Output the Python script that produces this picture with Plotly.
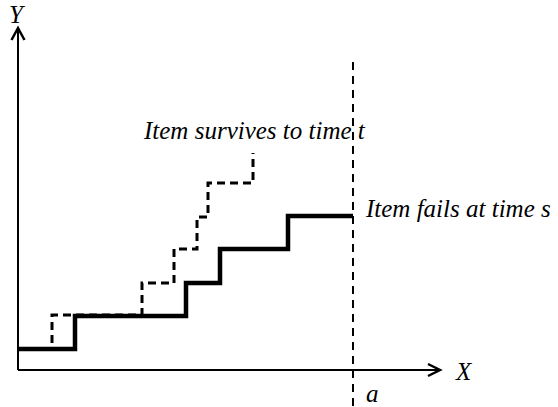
import plotly.graph_objects as go

# Step paths (x = time, y = level), drawn with 'hv' step shape
fail_x = [0, 5.6, 16.7, 20.1, 26.9, 33.4]
fail_y = [2.1, 5.4, 8.7, 12.1, 15.4, 15.4]

surv_x = [0, 3.3, 12.3, 15.5, 17.8, 18.9, 23.4]
surv_y = [2.1, 5.5, 8.7, 12.1, 15.3, 18.7, 21.7]

a_time = 33.4

labels = {
    "survive": "Item survives to time t",
    "fail": "Item fails at time s",
    "x": "X",
    "y": "Y",
    "a": "a",
}

FONT = dict(family="Times New Roman, Liberation Serif, serif", size=25, color="black", style="italic")

fig = go.Figure()

fig.add_trace(go.Scatter(x=surv_x, y=surv_y, mode="lines", line_shape="hv",
                         line=dict(color="black", width=3, dash="8px,5px"),
                         hoverinfo="skip", showlegend=False))
fig.add_trace(go.Scatter(x=fail_x, y=fail_y, mode="lines", line_shape="hv",
                         line=dict(color="black", width=4.5),
                         hoverinfo="skip", showlegend=False))

shapes = [
    dict(type="line", x0=-0.1, y0=0, x1=-0.1, y1=34.0, line=dict(color="black", width=2)),
    dict(type="line", x0=-0.1, y0=0, x1=42.0, y1=0, line=dict(color="black", width=2)),
    dict(type="path", path="M -0.75,33.0 L -0.1,34.2 L 0.55,33.0", line=dict(color="black", width=2.5)),
    dict(type="path", path="M 40.9,0.6 L 42.1,0 L 40.9,-0.6", line=dict(color="black", width=2.5)),
    dict(type="line", x0=a_time, y0=30.8, x1=a_time, y1=-3.7,
         line=dict(color="black", width=2, dash="8px,6px")),
]

annotations = [
    dict(x=12.2, y=24.0, text=labels["survive"], xanchor="left", yanchor="middle"),
    dict(x=34.4, y=16.2, text=labels["fail"], xanchor="left", yanchor="middle"),
    dict(x=-0.2, y=35.6, text=labels["y"], xanchor="center", yanchor="middle"),
    dict(x=44.5, y=-0.1, text=labels["x"], xanchor="center", yanchor="middle"),
    dict(x=35.3, y=-2.3, text=labels["a"], xanchor="center", yanchor="middle"),
]
for a in annotations:
    a.update(showarrow=False, xref="x", yref="y", font=FONT)

fig.update_layout(
    width=558, height=407,
    margin=dict(l=0, r=0, t=0, b=0),
    paper_bgcolor="white", plot_bgcolor="white",
    shapes=shapes, annotations=annotations,
    xaxis=dict(range=[-1.9, 53.9], visible=False, fixedrange=True),
    yaxis=dict(range=[-3.7, 37.0], visible=False, fixedrange=True),
    showlegend=False,
)

fig.write_html("out.html", config={"displayModeBar": False},
               post_script="document.body.style.margin='0';")
